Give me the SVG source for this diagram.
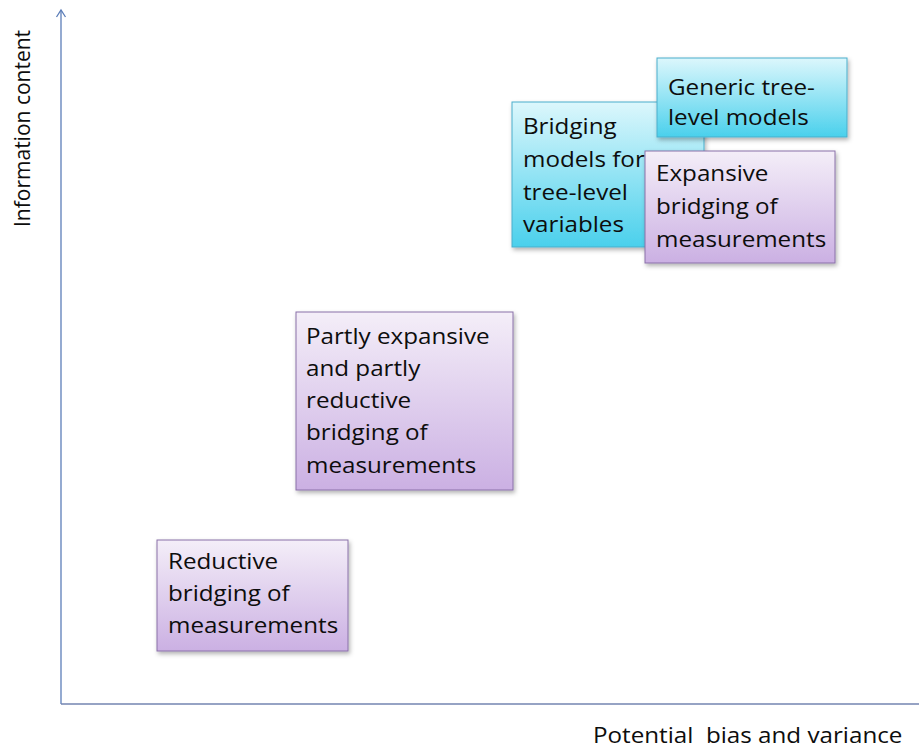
<svg xmlns="http://www.w3.org/2000/svg" width="919" height="749" viewBox="0 0 919 749">
<style>
.lbl{font-family:"Open Sans","Liberation Sans",sans-serif;font-size:22px;fill:#0d0d0d;white-space:pre}
.rot{font-size:21px}
.ax{stroke:#5b7db8;stroke-width:1.3;fill:none}
.cy{fill:url(#gc);stroke:#4aaecb;stroke-width:1}
.pu{fill:url(#gp);stroke:#8a70a8;stroke-width:1}
</style>
<defs>
<linearGradient id="gc" x1="0" y1="0" x2="0" y2="1">
<stop offset="0" stop-color="#dcf7fc"/>
<stop offset="1" stop-color="#4ad0ec"/>
</linearGradient>
<linearGradient id="gp" x1="0" y1="0" x2="0" y2="1">
<stop offset="0" stop-color="#f4eef8"/>
<stop offset="1" stop-color="#cbb0e3"/>
</linearGradient>
<filter id="sh" x="-10%" y="-10%" width="125%" height="130%">
<feDropShadow dx="1.5" dy="2.5" stdDeviation="2" flood-color="#000" flood-opacity="0.3"/>
</filter>
</defs>
<rect width="919" height="749" fill="#fff"/>
<g id="axes">
<line class="ax" x1="61" y1="704" x2="61" y2="10"/>
<path d="M56.5,17 L61,10 L65.5,17" class="ax"/>
<line class="ax" x1="61" y1="704" x2="919" y2="704" style="stroke:#7384b0"/>
</g>
<text class="lbl rot" transform="translate(30,227) rotate(-90)">Information content</text>
<text class="lbl" xml:space="preserve" transform="matrix(1.1 0 0 1 593 743)">Potential  bias and variance</text>
<g id="bridging-models">
<rect class="cy" x="512" y="102" width="192" height="145" filter="url(#sh)"/>
<text class="lbl" transform="matrix(1.1 0 0 1 523 0)"><tspan x="0" y="134">Bridging</tspan><tspan x="0" y="167">models for</tspan><tspan x="0" y="200">tree-level</tspan><tspan x="0" y="232">variables</tspan></text>
</g>
<g id="generic-models">
<rect class="cy" x="657" y="58" width="190" height="79" filter="url(#sh)"/>
<text class="lbl" transform="matrix(1.1 0 0 1 668 0)"><tspan x="0" y="95">Generic tree-</tspan><tspan x="0" y="125">level models</tspan></text>
</g>
<g id="expansive">
<rect class="pu" x="645" y="151" width="190" height="112" filter="url(#sh)"/>
<text class="lbl" transform="matrix(1.1 0 0 1 656 0)"><tspan x="0" y="181">Expansive</tspan><tspan x="0" y="214">bridging of</tspan><tspan x="0" y="247">measurements</tspan></text>
</g>
<g id="partly">
<rect class="pu" x="296" y="312" width="217" height="178" filter="url(#sh)"/>
<text class="lbl" transform="matrix(1.1 0 0 1 306 0)"><tspan x="0" y="344">Partly expansive</tspan><tspan x="0" y="376">and partly</tspan><tspan x="0" y="408">reductive</tspan><tspan x="0" y="440">bridging of</tspan><tspan x="0" y="473">measurements</tspan></text>
</g>
<g id="reductive">
<rect class="pu" x="157" y="540" width="191" height="111" filter="url(#sh)"/>
<text class="lbl" transform="matrix(1.1 0 0 1 168 0)"><tspan x="0" y="569">Reductive</tspan><tspan x="0" y="601">bridging of</tspan><tspan x="0" y="633">measurements</tspan></text>
</g>
</svg>
